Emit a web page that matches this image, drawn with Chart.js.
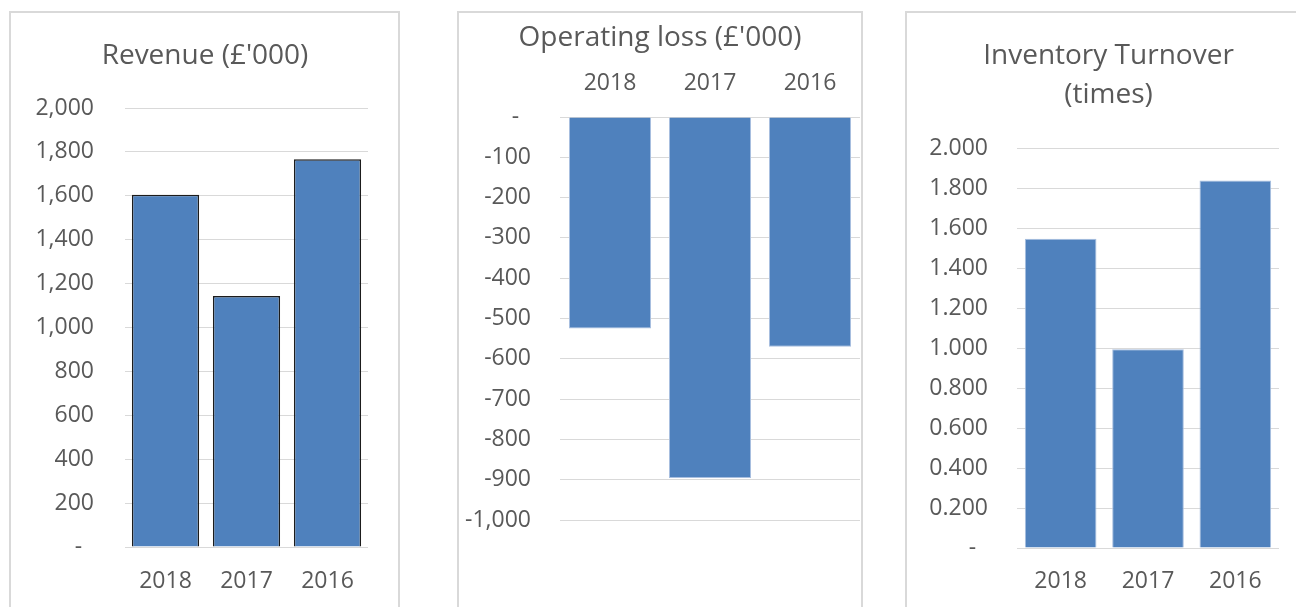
<!DOCTYPE html>
<html>
<head>
<meta charset="utf-8">
<script src="https://cdn.jsdelivr.net/npm/chart.js@4.4.1/dist/chart.umd.min.js"></script>
<style>
    body { margin: 0; width: 1296px; height: 607px; overflow: hidden; background: #fff; position: relative; }
    .marco { position: absolute; border: 2px solid #d9d9d9; height: 700px; box-sizing: border-box; }
    canvas { position: absolute; top: 0; }
</style>
</head>
<body>
<div class="marco" style="left:9px; top:11px; width:391px;"></div>
<div class="marco" style="left:457px; top:11px; width:406px;"></div>
<div class="marco" style="left:905px; top:11px; width:500px;"></div>
<canvas id="chartRevenue" width="390" height="607" style="left:10px"></canvas>
<canvas id="chartLoss" width="404" height="607" style="left:458px"></canvas>
<canvas id="chartTurnover" width="405" height="607" style="left:906px"></canvas>
<script>
// Datos
const years = ['2018', '2017', '2016'];
const revenue = [1605, 1143, 1767];          // £'000
const operatingLoss = [-525, -896, -570];    // £'000
const inventoryTurnover = [1.546, 0.994, 1.838];

const revenueTicks = { min: 0, max: 2000, step: 200 };
const lossTicks = { min: -1000, max: 0, step: 100 };
const turnoverTicks = { min: 0, max: 2, step: 0.2 };

const barBlue = '#4f81bd';
const textGrey = '#595959';
const gridGrey = '#d9d9d9';

Chart.defaults.font.family = '"Open Sans", sans-serif';
Chart.defaults.color = textGrey;

// Excel pone un guion para el cero
function formatThousands(value) {
    return value === 0 ? '-  ' : value.toLocaleString('en-US');
}

function formatDecimals(value) {
    return value === 0 ? '-  ' : value.toFixed(3);
}

// Eje vacio a la derecha para reservar espacio (asi el titulo queda centrado en el marco)
function spacerAxis(width) {
    return {
        type: 'linear',
        position: 'right',
        grid: { display: false },
        border: { display: false },
        ticks: { display: false },
        afterFit: s => { s.width = width; }
    };
}

function categoryAxis(position, height, padding) {
    return {
        position: position,
        grid: { display: false, drawTicks: false },
        border: { display: false },
        ticks: { font: { size: 23 }, padding: padding },
        afterFit: s => { s.height = height; }
    };
}

function baseOptions(title, titlePadding) {
    return {
        responsive: false,
        animation: false,
        plugins: {
            legend: { display: false },
            tooltip: { enabled: false },
            title: {
                display: true,
                text: title.text,
                color: textGrey,
                font: { size: 28, weight: 'normal', lineHeight: title.lineHeight || 1.2 },
                padding: titlePadding
            }
        }
    };
}

// Revenue
const opt1 = baseOptions({ text: "Revenue (£'000)" }, { top: 39.2, bottom: 35.2 });
opt1.scales = {
    x: categoryAxis('bottom', 60, 21),
    y: {
        min: revenueTicks.min,
        max: revenueTicks.max,
        ticks: { stepSize: revenueTicks.step, font: { size: 23 }, padding: 31, callback: formatThousands },
        grid: { color: gridGrey, drawTicks: false },
        border: { display: false },
        afterFit: s => { s.width = 115; }
    },
    yR: spacerAxis(32)
};
new Chart(document.getElementById('chartRevenue'), {
    type: 'bar',
    data: {
        labels: years,
        datasets: [{
            data: revenue,
            backgroundColor: barBlue,
            borderColor: '#1c1c1c',
            borderWidth: 1.5,
            barPercentage: 0.83,
            categoryPercentage: 1
        }]
    },
    options: opt1
});

// Operating loss (eje x arriba)
const opt2 = baseOptions({ text: "Operating loss (£'000)" }, { top: 21.2, bottom: 12.2 });
opt2.layout = { padding: { bottom: 87 } };
opt2.scales = {
    x: categoryAxis('top', 50, 20),
    y: {
        min: lossTicks.min,
        max: lossTicks.max,
        ticks: { stepSize: lossTicks.step, font: { size: 23 }, padding: 29, callback: formatThousands },
        grid: { color: gridGrey, drawTicks: false },
        border: { display: false },
        afterFit: s => { s.width = 102; }
    },
    yR: spacerAxis(2)
};
new Chart(document.getElementById('chartLoss'), {
    type: 'bar',
    data: {
        labels: years,
        datasets: [{
            data: operatingLoss,
            backgroundColor: barBlue,
            borderColor: '#a7bedf',
            borderWidth: 1,
            barPercentage: 0.82,
            categoryPercentage: 1
        }]
    },
    options: opt2
});

// Inventory turnover
const opt3 = baseOptions({ text: ['Inventory Turnover', '(times)'], lineHeight: 1.393 }, { top: 37, bottom: 33 });
opt3.scales = {
    x: categoryAxis('bottom', 59, 20),
    y: {
        min: turnoverTicks.min,
        max: turnoverTicks.max,
        ticks: { stepSize: turnoverTicks.step, font: { size: 23 }, padding: 29, callback: formatDecimals },
        grid: { color: gridGrey, drawTicks: false },
        border: { display: false },
        afterFit: s => { s.width = 111; }
    },
    yR: spacerAxis(32)
};
new Chart(document.getElementById('chartTurnover'), {
    type: 'bar',
    data: {
        labels: years,
        datasets: [{
            data: inventoryTurnover,
            backgroundColor: barBlue,
            borderColor: '#a7bedf',
            borderWidth: 1,
            barPercentage: 0.82,
            categoryPercentage: 1
        }]
    },
    options: opt3
});
</script>
</body>
</html>
